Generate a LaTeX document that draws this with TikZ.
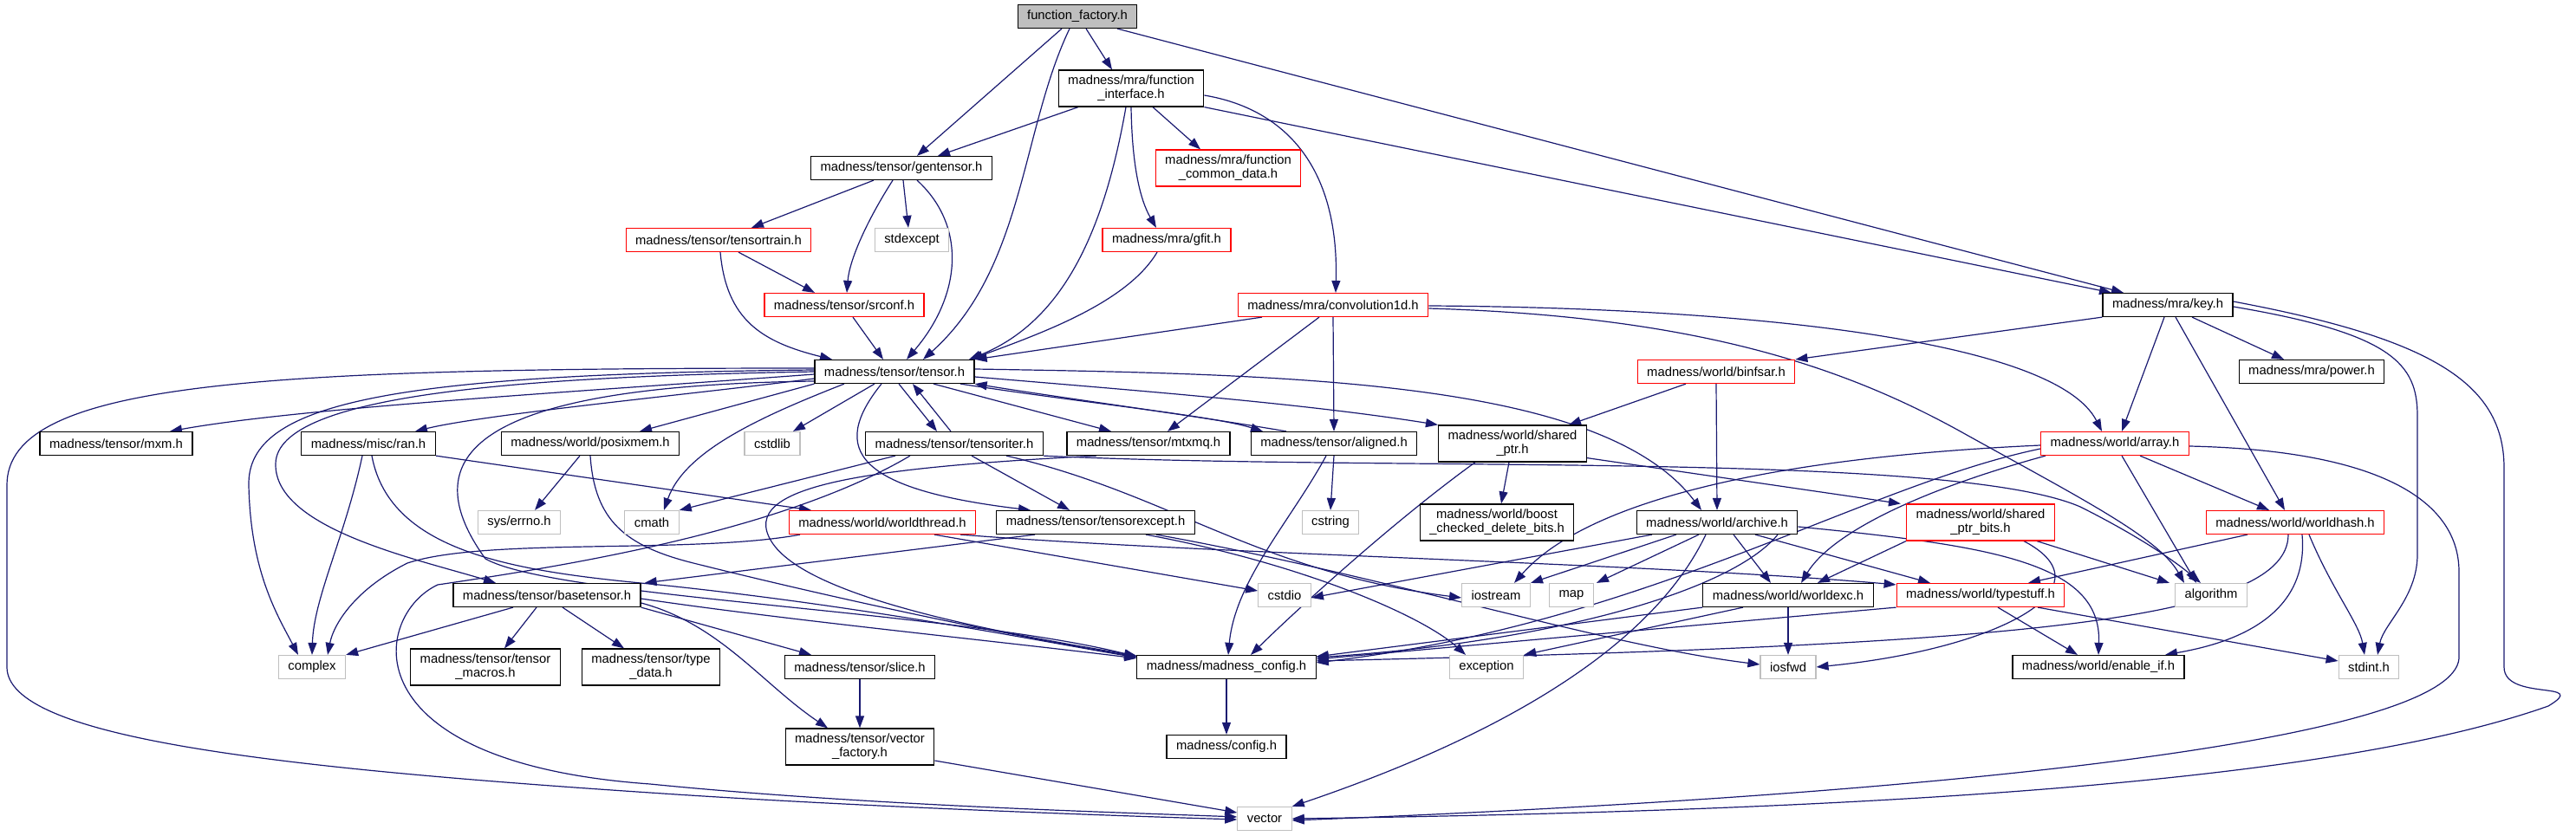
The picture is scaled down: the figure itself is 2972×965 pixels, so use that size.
\documentclass[tikz,border=0pt]{standalone}
\usepackage{fontspec}
\setmainfont{Liberation Sans}
\usetikzlibrary{arrows.meta}
\pgfdeclarelayer{edges}
\pgfsetlayers{edges,main}
\definecolor{edgeblue}{HTML}{191970}
\definecolor{sysgray}{HTML}{BFBFBF}
\tikzset{
  hfile/.style={draw=black, fill=white, line width=1.2pt, minimum height=27pt,
    inner xsep=11pt, inner ysep=2pt, align=center, font=\fontsize{14.8}{16}\selectfont},
  hfile2/.style={hfile, minimum height=42pt},
  missing/.style={hfile, draw=red},
  missing2/.style={hfile2, draw=red},
  syshdr/.style={hfile, draw=sysgray},
  roothdr/.style={hfile, fill=sysgray},
  incl/.style={draw=edgeblue, line width=1.2pt, -{Triangle[length=14pt,width=10pt]}}
}
\begin{document}
\begin{tikzpicture}[x=1pt,y=-1pt]
  \useasboundingbox (0,0) rectangle (2972,965);

  % headers, row by row
  \node[roothdr] (ff) at (1243,19) {function\_factory.h};
  \node[hfile2] (fi) at (1305,102) {madness/mra/function\\\_interface.h};
  \node[hfile] (gt) at (1040,194) {madness/tensor/gentensor.h};
  \node[missing2] (fcd) at (1417,194) {madness/mra/function\\\_common\_data.h};
  \node[missing] (tt) at (829,277) {madness/tensor/tensortrain.h};
  \node[syshdr] (stdexc) at (1052,277) {stdexcept};
  \node[missing] (gfit) at (1346,277) {madness/mra/gfit.h};
  \node[missing] (srconf) at (974,352) {madness/tensor/srconf.h};
  \node[missing] (conv) at (1538,352) {madness/mra/convolution1d.h};
  \node[hfile] (key) at (2501,352) {madness/mra/key.h};
  \node[hfile] (tensor) at (1032,429) {madness/tensor/tensor.h};
  \node[missing] (binfsar) at (1980,429) {madness/world/binfsar.h};
  \node[hfile] (power) at (2667,429) {madness/mra/power.h};
  \node[hfile] (mxm) at (134,512) {madness/tensor/mxm.h};
  \node[hfile] (ran) at (425,512) {madness/misc/ran.h};
  \node[hfile] (posix) at (681,512) {madness/world/posixmem.h};
  \node[syshdr] (cstdlib) at (891,512) {cstdlib};
  \node[hfile] (titer) at (1101,512) {madness/tensor/tensoriter.h};
  \node[hfile] (mtxmq) at (1325,512) {madness/tensor/mtxmq.h};
  \node[hfile] (aligned) at (1539,512) {madness/tensor/aligned.h};
  \node[hfile2] (sptr) at (1745,512) {madness/world/shared\\\_ptr.h};
  \node[missing] (array) at (2440,512) {madness/world/array.h};
  \node[syshdr] (errno) at (599,603) {sys/errno.h};
  \node[syshdr] (cmath) at (752,603) {cmath};
  \node[missing] (wthread) at (1018,603) {madness/world/worldthread.h};
  \node[hfile] (texcept) at (1264,603) {madness/tensor/tensorexcept.h};
  \node[syshdr] (cstring) at (1535,603) {cstring};
  \node[hfile2] (boost) at (1727,603) {madness/world/boost\\\_checked\_delete\_bits.h};
  \node[hfile] (archive) at (1981,603) {madness/world/archive.h};
  \node[missing2] (sptrbits) at (2285,603) {madness/world/shared\\\_ptr\_bits.h};
  \node[missing] (whash) at (2648,603) {madness/world/worldhash.h};
  \node[hfile] (basetensor) at (631,687) {madness/tensor/basetensor.h};
  \node[syshdr] (cstdio) at (1482,687) {cstdio};
  \node[syshdr] (iostream) at (1726,687) {iostream};
  \node[syshdr] (map) at (1813,687) {map};
  \node[hfile] (wexc) at (2063,687) {madness/world/worldexc.h};
  \node[missing] (typestuff) at (2285,687) {madness/world/typestuff.h};
  \node[syshdr] (algorithm) at (2551,687) {algorithm};
  \node[syshdr] (complex) at (360,770) {complex};
  \node[hfile2] (tmacros) at (560,770) {madness/tensor/tensor\\\_macros.h};
  \node[hfile2] (tdata) at (751,770) {madness/tensor/type\\\_data.h};
  \node[hfile] (slice) at (992,770) {madness/tensor/slice.h};
  \node[hfile] (mconfig) at (1415,770) {madness/madness\_config.h};
  \node[syshdr] (exception) at (1715,770) {exception};
  \node[syshdr] (iosfwd) at (2063,770) {iosfwd};
  \node[hfile] (enableif) at (2421,770) {madness/world/enable\_if.h};
  \node[syshdr] (stdint) at (2733,770) {stdint.h};
  \node[hfile2] (vfactory) at (992,862) {madness/tensor/vector\\\_factory.h};
  \node[hfile] (config) at (1415,862) {madness/config.h};
  \node[syshdr] (vector) at (1459,945) {vector};

  \begin{pgfonlayer}{edges}
  % function_factory.h
  \draw[incl] ([xshift=-18]ff.south) -- ([xshift=18]gt.north);
  \draw[incl] ([xshift=-9]ff.south) .. controls (1178,150) and (1182,310) .. ([xshift=33]tensor.north);
  \draw[incl] ([xshift=10]ff.south) -- ([xshift=-22]fi.north);
  \draw[incl] ([xshift=46]ff.south) -- ([xshift=-51]key.north);

  % function_interface.h
  \draw[incl] ([xshift=-61]fi.south) -- ([xshift=42]gt.north);
  \draw[incl] ([xshift=-6]fi.south) .. controls (1275,260) and (1230,370) .. ([xshift=86]tensor.north);
  \draw[incl] (fi.south) .. controls (1306,190) and (1315,230) .. ([xshift=-12]gfit.north);
  \draw[incl] ([xshift=25]fi.south) -- ([xshift=-32]fcd.north);
  \draw[incl] ([yshift=-8]fi.east) .. controls (1480,125) and (1545,190) .. ([xshift=3]conv.north);
  \draw[incl] (fi.south east) -- ([xshift=-65]key.north);

  % gentensor.h
  \draw[incl] ([xshift=-32]gt.south) -- ([xshift=38]tt.north);
  \draw[incl] ([xshift=-10]gt.south) .. controls (1000,255) and (980,300) .. ([xshift=3]srconf.north);
  \draw[incl] ([xshift=2]gt.south) -- ([xshift=-4]stdexc.north);
  \draw[incl] ([xshift=18]gt.south) .. controls (1115,260) and (1110,340) .. ([xshift=14]tensor.north);

  % tensortrain.h, srconf.h, gfit.h
  \draw[incl] ([xshift=23]tt.south) -- ([xshift=-34]srconf.north);
  \draw[incl] ([xshift=2]tt.south) .. controls (838,370) and (880,395) .. ([xshift=-72]tensor.north);
  \draw[incl] ([xshift=10]srconf.south) -- ([xshift=-13]tensor.north);
  \draw[incl] ([xshift=-11]gfit.south) .. controls (1300,350) and (1200,385) .. ([xshift=88]tensor.north);

  % convolution1d.h
  \draw[incl] ([xshift=-82]conv.south) -- (tensor.north east);
  \draw[incl] ([xshift=-16]conv.south) -- ([xshift=22]mtxmq.north);
  \draw[incl] (conv.south) -- (aligned.north);
  \draw[incl] ([yshift=-1]conv.east) .. controls (2000,355) and (2370,390) .. ([xshift=-15]array.north);
  \draw[incl] ([yshift=-4]conv.east) .. controls (1950,365) and (2120,420) .. (2260,497)
    .. controls (2400,575) and (2490,620) .. ([xshift=-31]algorithm.north);

  % key.h
  \draw[incl] (key.south west) -- (binfsar.north east);
  \draw[incl] ([xshift=-4]key.south) -- ([xshift=8]array.north);
  \draw[incl] ([xshift=28]key.south) -- ([xshift=-32]power.north);
  \draw[incl] ([xshift=9]key.south) -- ([xshift=-12]whash.north);
  \draw[incl] ([yshift=-2]key.east) .. controls (2760,385) and (2789,420) .. (2789,480) -- (2789,640)
    .. controls (2789,690) and (2750,720) .. ([xshift=10]stdint.north);
  \draw[incl] ([yshift=4]key.east) .. controls (2800,390) and (2889,440) .. (2889,540) -- (2889,770)
    .. controls (2889,810) and (2990,785) .. (2940,815) .. controls (2700,900) and (2200,935) .. (vector.east);

  % tensor.h
  \draw[incl] ([yshift=-3]tensor.west) .. controls (700,450) and (350,470) .. ([xshift=62]mxm.north);
  \draw[incl] ([yshift=-8]tensor.west) .. controls (800,455) and (560,478) .. ([xshift=54]ran.north);
  \draw[incl] (tensor.south west) -- ([xshift=57]posix.north);
  \draw[incl] ([xshift=-23]tensor.south) -- ([xshift=24]cstdlib.north);
  \draw[incl] ([xshift=5]tensor.south) -- ([xshift=-20]titer.north);
  \draw[incl] ([xshift=45]tensor.south) -- ([xshift=-43]mtxmq.north);
  \draw[incl] ([xshift=76]tensor.south) .. controls (1250,465) and (1400,480) .. ([xshift=-82]aligned.north);
  \draw[incl] ([yshift=-6]tensor.east) .. controls (1300,450) and (1500,465) .. (sptr.north west);
  \draw[incl] ([yshift=3]tensor.east) .. controls (1500,432) and (1850,440) .. ([xshift=-18]archive.north);
  \draw[incl] ([xshift=-58]tensor.south) .. controls (880,480) and (790,520) .. ([xshift=14]cmath.north);
  \draw[incl] ([xshift=-15]tensor.south) .. controls (955,520) and (990,565) .. ([xshift=-75]texcept.north);
  \draw[incl] (tensor.west) .. controls (600,435) and (320,455) .. (318,535)
    .. controls (316,610) and (480,645) .. ([xshift=-59]basetensor.north);
  \draw[incl] ([yshift=2]tensor.west) .. controls (450,432) and (285,465) .. (287,560)
    .. controls (289,660) and (320,710) .. ([xshift=-16]complex.north);
  \draw[incl] ([yshift=4]tensor.west) .. controls (300,425) and (8,440) .. (8,560) -- (8,770)
    .. controls (8,850) and (300,885) .. (750,915) .. controls (1000,932) and (1300,942) .. ([yshift=-1]vector.west);
  \draw[incl] ([yshift=-11]tensor.west) .. controls (560,445) and (470,520) .. (560,645)
    .. controls (640,690) and (1100,705) .. ([yshift=-2]mconfig.north west);

  % back to tensor.h
  \draw[incl] ([xshift=-4]titer.north) -- ([xshift=21]tensor.south);
  \draw[incl] ([xshift=-55]aligned.north) .. controls (1380,480) and (1230,460) .. (tensor.south east);

  % tensoriter.h
  \draw[incl] ([xshift=-68]titer.south) -- (cmath.north east);
  \draw[incl] ([xshift=-51]titer.south) .. controls (900,615) and (640,655) .. (505,675)
    .. controls (430,710) and (400,880) .. (750,905) .. controls (1000,930) and (1300,938) .. ([yshift=2]vector.west);
  \draw[incl] ([xshift=20]titer.south) -- ([xshift=-30]texcept.north);
  \draw[incl] ([xshift=60]titer.south) .. controls (1350,570) and (1450,660) .. ([yshift=-3]iostream.west);
  \draw[incl] (titer.south east) .. controls (1600,545) and (2250,520) .. (2400,585)
    .. controls (2450,610) and (2500,640) .. ([xshift=-12]algorithm.north);

  % mtxmq.h, aligned.h, shared_ptr.h, binfsar.h
  \draw[incl] ([xshift=-60]mtxmq.south) .. controls (1000,540) and (850,560) .. (890,625)
    .. controls (930,690) and (1150,730) .. ([yshift=-1]mconfig.north west);
  \draw[incl] (aligned.south) -- (cstring.north);
  \draw[incl] ([xshift=-9]aligned.south) .. controls (1490,600) and (1425,670) .. ([xshift=2]mconfig.north);
  \draw[incl] ([xshift=-4]sptr.south) -- ([xshift=5]boost.north);
  \draw[incl] ([xshift=-43]sptr.south) .. controls (1610,600) and (1500,700) .. ([xshift=28]mconfig.north);
  \draw[incl] ([yshift=5]sptr.south east) -- ([xshift=-6]sptrbits.north west);
  \draw[incl] ([xshift=-35]binfsar.south) -- ([xshift=65]sptr.north);
  \draw[incl] (binfsar.south) -- (archive.north);

  % basetensor.h
  \draw[incl] ([xshift=-39]basetensor.south) -- (complex.north east);
  \draw[incl] ([xshift=-12]basetensor.south) -- ([xshift=22]tmacros.north);
  \draw[incl] ([xshift=18]basetensor.south) -- ([xshift=-31]tdata.north);
  \draw[incl] (basetensor.south east) -- ([xshift=-56]slice.north);
  \draw[incl] ([yshift=-9]basetensor.east) .. controls (830,720) and (880,790) .. ([xshift=-37]vfactory.north);
  \draw[incl] ([yshift=-4]basetensor.east) .. controls (900,715) and (1150,740) .. ([yshift=-4]mconfig.north west);

  % ran.h, posixmem.h
  \draw[incl] ([xshift=-7]ran.south) .. controls (398,620) and (362,690) .. (complex.north);
  \draw[incl] ([xshift=4]ran.south) .. controls (450,640) and (600,660) .. (760,675)
    .. controls (1000,700) and (1200,740) .. ([yshift=-3]mconfig.north west);
  \draw[incl] (ran.south east) -- ([xshift=-82]wthread.north);
  \draw[incl] ([xshift=-12]posix.south) -- ([xshift=18]errno.north);
  \draw[incl] (posix.south) .. controls (686,600) and (720,630) .. (800,650)
    .. controls (1000,700) and (1200,740) .. ([yshift=-2]mconfig.north west);

  % worldthread.h, tensorexcept.h
  \draw[incl] ([xshift=-95]wthread.south) .. controls (800,640) and (560,620) .. (470,650)
    .. controls (410,680) and (385,720) .. ([xshift=18]complex.north);
  \draw[incl] ([xshift=60]wthread.south) -- ([yshift=5]cstdio.west);
  \draw[incl] ([xshift=90]wthread.south) .. controls (1400,640) and (1900,650) .. ([yshift=-2]typestuff.north west);
  \draw[incl] ([xshift=-70]texcept.south) -- ([xshift=4]basetensor.north east);
  \draw[incl] ([xshift=58]texcept.south) .. controls (1500,650) and (1640,710) .. ([xshift=-24]exception.north);
  \draw[incl] ([xshift=70]texcept.south) .. controls (1600,665) and (1850,745) .. ([yshift=3]iosfwd.west);

  % archive.h
  \draw[incl] ([xshift=-75]archive.south) -- ([yshift=-3]cstdio.east);
  \draw[incl] ([xshift=-47]archive.south) -- ([xshift=40]iostream.north);
  \draw[incl] ([xshift=-21]archive.south) -- ([xshift=29]map.north);
  \draw[incl] ([xshift=-13]archive.south) .. controls (1900,760) and (1700,860) .. (vector.north east);
  \draw[incl] ([xshift=19]archive.south) -- ([xshift=-20]wexc.north);
  \draw[incl] ([xshift=44]archive.south) -- ([xshift=-58]typestuff.north);
  \draw[incl] ([xshift=70]archive.south) .. controls (2000,680) and (1800,740) .. ([yshift=-3]mconfig.north east);
  \draw[incl] ([yshift=-5]archive.east) .. controls (2300,630) and (2425,650) .. (enableif.north);

  % worldexc.h, typestuff.h
  \draw[incl] (wexc.south west) -- ([yshift=-2]mconfig.north east);
  \draw[incl] ([xshift=-52]wexc.south) -- (exception.north east);
  \draw[incl] (wexc.south) -- (iosfwd.north);
  \draw[incl] (typestuff.south west) -- ([yshift=-5]mconfig.north east);
  \draw[incl] ([xshift=20]typestuff.south) -- ([xshift=-24]enableif.north);
  \draw[incl] ([xshift=66]typestuff.south) -- ([yshift=7]stdint.west);

  % worldhash.h, shared_ptr_bits.h
  \draw[incl] ([xshift=-55]whash.south) -- ([xshift=55]typestuff.north);
  \draw[incl] ([xshift=-8]whash.south) .. controls (2640,720) and (2300,745) .. ([yshift=-7]mconfig.north east);
  \draw[incl] ([xshift=8]whash.south) .. controls (2665,720) and (2560,745) .. ([xshift=77]enableif.north);
  \draw[incl] ([xshift=16]whash.south) .. controls (2690,680) and (2722,720) .. ([xshift=-5]stdint.north);
  \draw[incl] ([xshift=65]sptrbits.south) -- ([xshift=-48]algorithm.north);
  \draw[incl] (sptrbits.south west) -- ([xshift=34]wexc.north);
  \draw[incl] ([xshift=50]sptrbits.south) .. controls (2440,680) and (2300,750) .. (iosfwd.east);

  % array.h
  \draw[incl] ([yshift=-2]array.west) .. controls (2000,530) and (1820,590) .. ([xshift=21]iostream.north);
  \draw[incl] ([yshift=-6]array.west) .. controls (2150,560) and (1900,720) .. ([yshift=-9]mconfig.north east);
  \draw[incl] ([xshift=-80]array.south) .. controls (2200,570) and (2110,620) .. ([xshift=15]wexc.north);
  \draw[incl] ([xshift=8]array.south) -- ([xshift=-17]algorithm.north);
  \draw[incl] ([xshift=29]array.south) -- ([xshift=-30]whash.north);
  \draw[incl] ([yshift=-3]array.east) .. controls (2750,520) and (2837,580) .. (2837,660) -- (2837,760)
    .. controls (2830,850) and (2300,915) .. ([yshift=-2]vector.east);

  % bottom rows
  \draw[incl] (mconfig.south) -- (config.north);
  \draw[incl] (slice.south) -- (vfactory.north);
  \draw[incl] ([yshift=-16]vfactory.east) -- ([yshift=7]vector.west);
  \end{pgfonlayer}
\end{tikzpicture}
\end{document}
